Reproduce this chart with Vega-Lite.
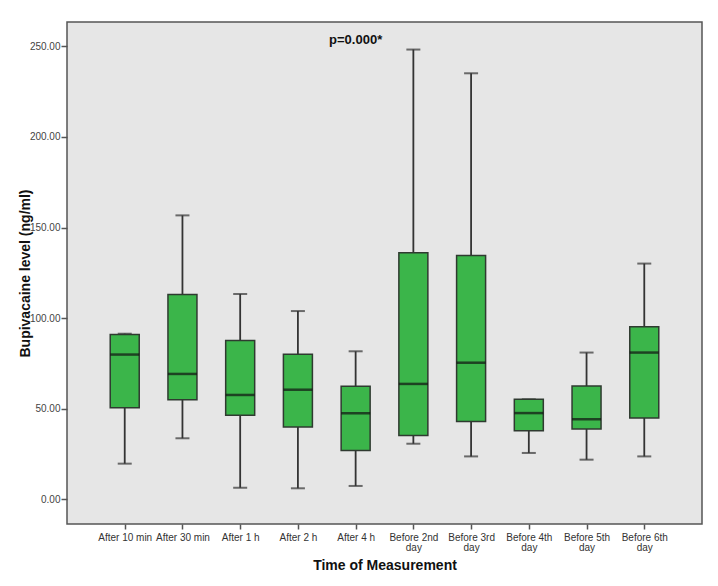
{
  "$schema": "https://vega.github.io/schema/vega-lite/v6.json",
  "autosize": {"type": "none"},
  "padding": {"left": 67, "top": 22, "right": 16, "bottom": 62},
  "width": 635,
  "height": 502,
  "background": "white",
  "config": {
    "view": {"fill": "#e6e6e6", "stroke": "#555555", "strokeWidth": 1.5},
    "font": "Liberation Sans"
  },
  "datasets": {
    "boxes": [
      {"time": "After 10 min", "min": 19.7, "q1": 50.6, "median": 79.9, "q3": 90.9, "max": 91.4},
      {"time": "After 30 min", "min": 33.7, "q1": 55.0, "median": 69.2, "q3": 113.1, "max": 156.7},
      {"time": "After 1 h", "min": 6.4, "q1": 46.4, "median": 57.6, "q3": 87.7, "max": 113.3},
      {"time": "After 2 h", "min": 6.1, "q1": 39.9, "median": 60.5, "q3": 80.0, "max": 103.9},
      {"time": "After 4 h", "min": 7.4, "q1": 26.9, "median": 47.5, "q3": 62.4, "max": 81.7},
      {"time": "Before 2nd|day", "min": 30.7, "q1": 35.3, "median": 63.7, "q3": 136.1, "max": 248.2},
      {"time": "Before 3rd|day", "min": 23.7, "q1": 42.9, "median": 75.4, "q3": 134.5, "max": 235.1},
      {"time": "Before 4th|day", "min": 25.6, "q1": 37.9, "median": 47.6, "q3": 55.2, "max": 55.2},
      {"time": "Before 5th|day", "min": 21.9, "q1": 38.8, "median": 44.2, "q3": 62.5, "max": 81.0},
      {"time": "Before 6th|day", "min": 23.7, "q1": 44.9, "median": 81.0, "q3": 95.3, "max": 130.1}
    ],
    "note": [
      {"time": "After 4 h", "y": 253.3, "label": "p=0.000*"}
    ]
  },
  "encoding": {
    "x": {
      "field": "time",
      "type": "nominal",
      "sort": null,
      "scale": {"type": "point", "padding": 1.06},
      "axis": {
        "title": "Time of Measurement",
        "titleFontSize": 14,
        "titleFontWeight": "bold",
        "titleColor": "#111111",
        "titlePadding": 6,
        "labelAngle": 0,
        "labelFontSize": 10,
        "labelColor": "#333333",
        "labelPadding": 3,
        "labelExpr": "split(datum.label, '|')",
        "labelLineHeight": 10,
        "domain": false,
        "tickColor": "#555555",
        "tickSize": 5,
        "tickWidth": 1.5
      }
    }
  },
  "layer": [
    {
      "data": {"name": "boxes"},
      "mark": {"type": "rule", "color": "#333333", "strokeWidth": 1.8},
      "encoding": {
        "y": {
          "field": "min",
          "type": "quantitative",
          "scale": {"domain": [-13.6, 263.4], "nice": false, "zero": false},
          "axis": {
            "title": "Bupivacaine level (ng/ml)",
            "titleFontSize": 14,
            "titleFontWeight": "bold",
            "titleColor": "#111111",
            "titlePadding": -3,
            "values": [0, 50, 100, 150, 200, 250],
            "format": ".2f",
            "labelFontSize": 10,
            "labelColor": "#444444",
            "labelPadding": 1,
            "grid": false,
            "domain": false,
            "tickColor": "#555555",
            "tickSize": 6,
            "tickWidth": 1.5
          }
        },
        "y2": {"field": "max"}
      }
    },
    {
      "data": {"name": "boxes"},
      "mark": {"type": "tick", "color": "#333333", "size": 14, "thickness": 2, "orient": "horizontal"},
      "encoding": {"y": {"field": "min", "type": "quantitative"}}
    },
    {
      "data": {"name": "boxes"},
      "mark": {"type": "tick", "color": "#333333", "size": 14, "thickness": 2, "orient": "horizontal"},
      "encoding": {"y": {"field": "max", "type": "quantitative"}}
    },
    {
      "data": {"name": "boxes"},
      "mark": {"type": "bar", "size": 29, "fill": "#3bb54a", "stroke": "#2f3a30", "strokeWidth": 1.5},
      "encoding": {
        "y": {"field": "q1", "type": "quantitative"},
        "y2": {"field": "q3"}
      }
    },
    {
      "data": {"name": "boxes"},
      "mark": {"type": "tick", "color": "#111111", "size": 29, "thickness": 2.5, "orient": "horizontal"},
      "encoding": {"y": {"field": "median", "type": "quantitative"}}
    },
    {
      "data": {"name": "note"},
      "mark": {"type": "text", "fontSize": 13, "fontWeight": "bold", "color": "#111111", "baseline": "middle", "align": "center"},
      "encoding": {
        "y": {"field": "y", "type": "quantitative"},
        "text": {"field": "label"}
      }
    }
  ]
}
